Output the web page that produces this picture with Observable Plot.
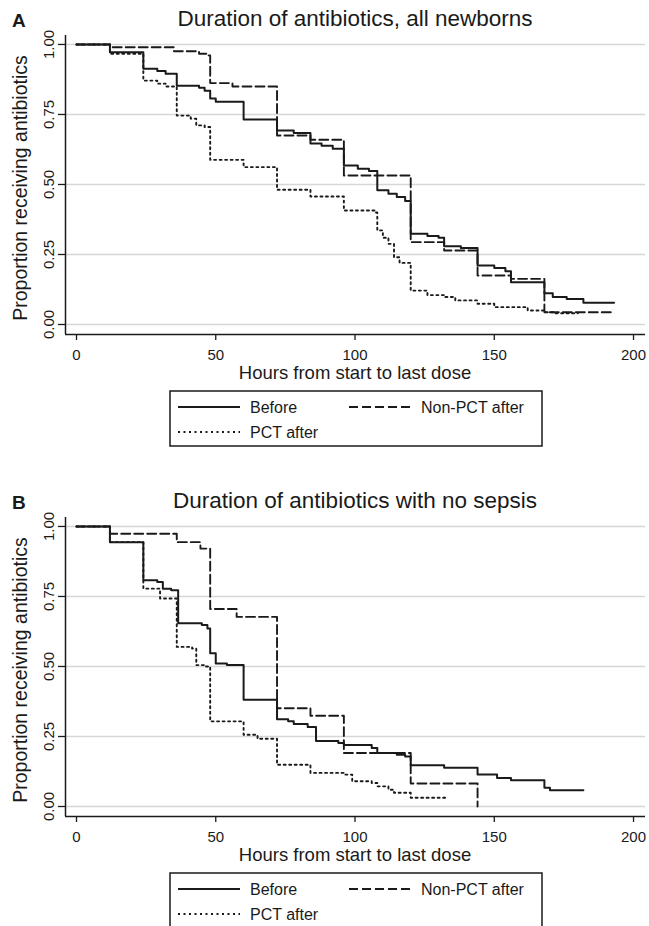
<!DOCTYPE html>
<html><head><meta charset="utf-8">
<script src="https://cdn.jsdelivr.net/npm/d3@7"></script>
<script src="https://cdn.jsdelivr.net/npm/@observablehq/plot@0.6"></script>
<style>
html,body{margin:0;padding:0;background:#fff;}
#wrap{position:relative;width:649px;height:926px;overflow:hidden;background:#fff;}
#wrap svg{position:absolute;left:0;}
</style></head><body><div id="wrap"></div>
<script>
// ---------- data ----------
const seriesNames = ["Before", "Non-PCT after", "PCT after"];
const xTicks = [0, 50, 100, 150, 200];
const yTicks = [0, 0.25, 0.5, 0.75, 1];
const panelTitles = ["Duration of antibiotics, all newborns", "Duration of antibiotics with no sepsis"];
const panelLetters = ["A", "B"];
const xLabel = "Hours from start to last dose";
const yLabel = "Proportion receiving antibiotics";

// Panel A
const hoursA_before = [0,12,24,29,32,36,44,46,48,50,60,72,78,84,88,92,96,101,105,108,112,115,118,120,126,130,132,138,144,150,154,156,168,171,176,182,193];
const propA_before  = [1,.972,.913,.905,.895,.853,.845,.835,.807,.795,.732,.693,.684,.646,.638,.628,.568,.556,.548,.479,.467,.455,.441,.324,.316,.31,.279,.273,.211,.202,.19,.151,.112,.098,.091,.078,.078];
const hoursA_nonpct = [0,12,35,44,47,48,56,72,84,96,120,132,144,156,168,193];
const propA_nonpct  = [1,.99,.976,.967,.961,.862,.85,.675,.66,.532,.294,.264,.175,.163,.044,.044];
const hoursA_pct = [0,12,24,29,32,36,41,43,46,48,60,72,84,96,107,108,110,112,114,116,120,126,132,136,144,150,162,168,172,180];
const propA_pct  = [1,.967,.871,.86,.85,.746,.735,.711,.705,.588,.562,.481,.457,.407,.4,.336,.31,.288,.24,.22,.121,.105,.098,.086,.074,.062,.05,.044,.04,.04];

// Panel B
const hoursB_before = [0,12,24,29,31,34,36.5,45,47,48,50,54,60,72,76,78,83,86,94,96,106,108,115,118,120,132,144,151,156,168,170,182];
const propB_before  = [1,.944,.808,.802,.778,.772,.654,.648,.636,.547,.511,.505,.381,.312,.304,.295,.284,.234,.227,.22,.209,.191,.185,.179,.147,.138,.114,.102,.094,.067,.058,.058];
const hoursB_nonpct = [0,12,36,44.5,48,57.5,72,84,96,120,144];
const propB_nonpct  = [1,.974,.944,.921,.705,.677,.351,.324,.191,.082,0];
const hoursB_pct = [0,12,24,30,36,41.5,43,46,48,60,65,72,84,96,99,106,108,112,114,120,133];
const propB_pct  = [1,.944,.778,.743,.57,.564,.505,.5,.304,.256,.242,.149,.12,.114,.09,.084,.072,.06,.049,.031,.031];

// ---------- build ----------
const FONT = '"Liberation Sans", Arial, Helvetica, sans-serif';
const INK = "#1a1a1a";
const X0 = -3.95, X1 = 204.3, Y0 = -0.0357, Y1 = 1.032;
const lineStyle = {
  "Before": {strokeWidth: 2, strokeDasharray: null},
  "Non-PCT after": {strokeWidth: 1.9, strokeDasharray: "9,4"},
  "PCT after": {strokeWidth: 1.9, strokeDasharray: "2,3.5"}
};
function rowsOf(list) {
  const rows = [];
  list.forEach(([name, hs, ps]) => hs.forEach((h, i) => rows.push({s: name, h, p: ps[i]})));
  return rows;
}
const panelsData = [
  rowsOf([["Before", hoursA_before, propA_before], ["Non-PCT after", hoursA_nonpct, propA_nonpct], ["PCT after", hoursA_pct, propA_pct]]),
  rowsOf([["Before", hoursB_before, propB_before], ["Non-PCT after", hoursB_nonpct, propB_nonpct], ["PCT after", hoursB_pct, propB_pct]])
];

function panel(rows) {
  const lines = ["PCT after", "Non-PCT after", "Before"].map(name =>
    Plot.line(rows.filter(d => d.s === name), {
      x: "h", y: "p", curve: "step-after", stroke: INK,
      strokeWidth: lineStyle[name].strokeWidth,
      strokeDasharray: lineStyle[name].strokeDasharray || undefined
    }));
  return Plot.plot({
    width: 649, height: 390,
    marginLeft: 65, marginRight: 4, marginTop: 35, marginBottom: 56,
    style: {fontFamily: FONT, fontSize: "15px", color: INK, background: "transparent", overflow: "visible"},
    x: {domain: [X0, X1]},
    y: {domain: [Y0, Y1]},
    marks: [
      Plot.gridY({ticks: yTicks, stroke: "#d6d6d6", strokeOpacity: 1, strokeWidth: 1.4}),
      Plot.axisX({ticks: xTicks, tickSize: 6, tickPadding: 9, fontSize: 15, label: null, strokeWidth: 1.3}),
      Plot.axisY({ticks: yTicks, tickSize: 7, tickPadding: 5, tickRotate: -90, tickFormat: d3.format(".2f"), fontSize: 15, label: null, strokeWidth: 1.3}),
      Plot.ruleX([X0], {stroke: INK, strokeWidth: 1.5}),
      Plot.ruleY([Y0], {stroke: INK, strokeWidth: 1.5}),
      ...lines
    ]
  });
}

const wrap = document.getElementById("wrap");
const offsets = [0, 482];
panelsData.forEach((rows, i) => {
  const svg = panel(rows);
  svg.style.top = offsets[i] + "px";
  wrap.appendChild(svg);
});

// overlay: titles, axis titles, legends
const ov = d3.create("svg").attr("width", 649).attr("height", 926)
  .style("top", "0px").style("font-family", FONT).style("pointer-events", "none");
offsets.forEach((o, i) => {
  const g = ov.append("g").attr("transform", `translate(0,${o})`).attr("fill", INK);
  g.append("text").attr("x", 12).attr("y", 27).attr("font-size", 19).attr("font-weight", "bold").text(panelLetters[i]);
  g.append("text").attr("x", 355).attr("y", 26).attr("font-size", 22.5).attr("text-anchor", "middle").text(panelTitles[i]);
  g.append("text").attr("transform", "translate(27,188) rotate(-90)").attr("font-size", 19.5).attr("text-anchor", "middle").text(yLabel);
  g.append("text").attr("x", 355).attr("y", 379).attr("font-size", 18.5).attr("text-anchor", "middle").text(xLabel);
  // legend
  g.append("rect").attr("x", 170).attr("y", 391).attr("width", 372).attr("height", 55)
    .attr("fill", "#fff").attr("stroke", INK).attr("stroke-width", 1.5);
  const items = [
    {name: seriesNames[0], x: 178, cy: 407},
    {name: seriesNames[1], x: 349, cy: 407},
    {name: seriesNames[2], x: 178, cy: 432}
  ];
  items.forEach(it => {
    const st = lineStyle[it.name];
    g.append("line").attr("x1", it.x).attr("x2", it.x + 62).attr("y1", it.cy).attr("y2", it.cy)
      .attr("stroke", INK).attr("stroke-width", st.strokeWidth)
      .attr("stroke-dasharray", st.strokeDasharray);
    g.append("text").attr("x", it.x + 72).attr("y", it.cy + 5.7).attr("font-size", 16).text(it.name);
  });
});
wrap.appendChild(ov.node());
</script></body></html>
